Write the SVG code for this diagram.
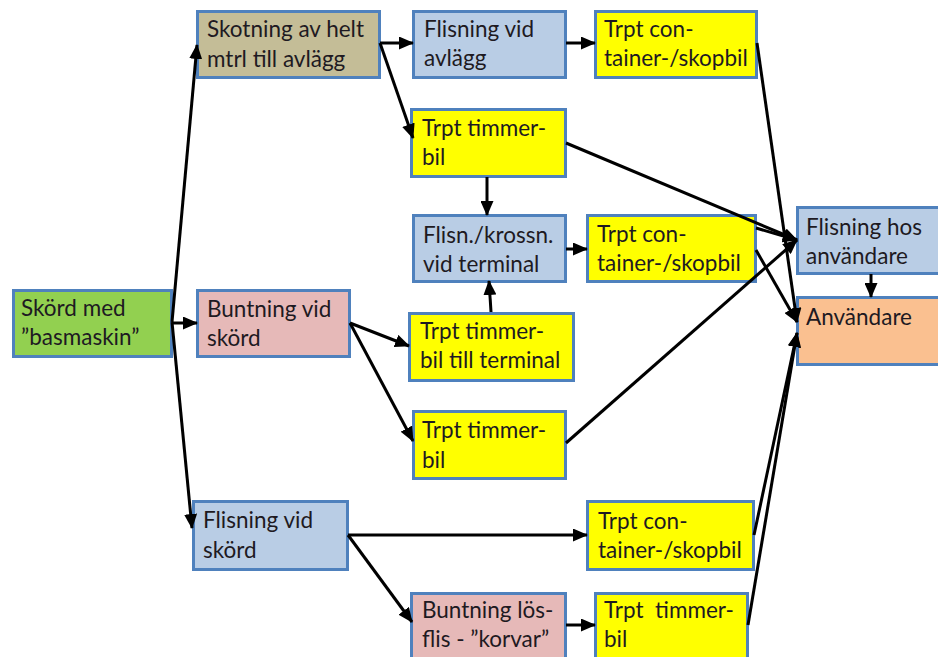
<svg xmlns="http://www.w3.org/2000/svg" width="938" height="657" viewBox="0 0 938 657">
<defs>
<style>
.b{stroke:#4F81BD;stroke-width:3}
.g{fill:#92D050}.t{fill:#C4BD97}.l{fill:#B9CDE5}.y{fill:#FFFF00}.p{fill:#E6B9B8}.o{fill:#FAC090}
text{font-family:Lato,"Liberation Sans",sans-serif;font-size:22.5px;fill:#1e1a22}
.c line{stroke:#000;stroke-width:3;marker-end:url(#a)}
</style>
<marker id="a" markerUnits="userSpaceOnUse" markerWidth="15" markerHeight="13" refX="14" refY="6.5" orient="auto">
<path d="M0,0 L15,6.5 L0,13 Z" fill="#000"/>
</marker>
</defs>
<rect width="938" height="657" fill="#fff"/>
<g id="n1"><rect class="b g" x="13.5" y="290.5" width="158" height="66"/><text x="21" y="316">Skörd med</text><text x="21" y="345">”basmaskin”</text></g>
<g id="n2"><rect class="b t" x="197.5" y="11.5" width="182" height="66"/><text x="207" y="37">Skotning av helt</text><text x="207" y="67">mtrl till avlägg</text></g>
<g id="n3"><rect class="b l" x="413.5" y="11.5" width="152" height="66"/><text x="424" y="37">Flisning vid</text><text x="424" y="66">avlägg</text></g>
<g id="n4"><rect class="b y" x="595.5" y="11.5" width="161" height="66"/><text x="604" y="37">Trpt con-</text><text x="604" y="66">tainer-/skopbil</text></g>
<g id="n5"><rect class="b y" x="411.5" y="109.5" width="154" height="67"/><text x="422" y="136">Trpt timmer-</text><text x="422" y="165">bil</text></g>
<g id="n6"><rect class="b l" x="413.5" y="215.5" width="152" height="66"/><text x="423" y="243">Flisn./krossn.</text><text x="423" y="272">vid terminal</text></g>
<g id="n7"><rect class="b y" x="587.5" y="215.5" width="168" height="66"/><text x="597" y="242">Trpt con-</text><text x="597" y="271">tainer-/skopbil</text></g>
<g id="n8"><rect class="b l" x="797.5" y="207.5" width="150" height="66"/><text x="806" y="235">Flisning hos</text><text x="806" y="264">användare</text></g>
<g id="n9"><rect class="b o" x="797.5" y="297.5" width="150" height="67"/><text x="806" y="325">Användare</text></g>
<g id="n10"><rect class="b p" x="197.5" y="290.5" width="152" height="66"/><text x="207" y="317">Buntning vid</text><text x="207" y="346">skörd</text></g>
<g id="n11"><rect class="b y" x="409.5" y="313.5" width="164" height="67"/><text x="420" y="339">Trpt timmer-</text><text x="420" y="368">bil till terminal</text></g>
<g id="n12"><rect class="b y" x="413.5" y="411.5" width="152" height="67"/><text x="422" y="438">Trpt timmer-</text><text x="422" y="468">bil</text></g>
<g id="n13"><rect class="b l" x="193.5" y="501.5" width="154" height="68"/><text x="203" y="528">Flisning vid</text><text x="203" y="558">skörd</text></g>
<g id="n14"><rect class="b y" x="587.5" y="501.5" width="166" height="68"/><text x="598" y="529">Trpt con-</text><text x="598" y="558">tainer-/skopbil</text></g>
<g id="n15"><rect class="b p" x="411.5" y="593.5" width="154" height="70"/><text x="422" y="618">Buntning lös-</text><text x="422" y="647">flis - ”korvar”</text></g>
<g id="n16"><rect class="b y" x="595.5" y="593.5" width="152" height="70"/><text x="604" y="618" xml:space="preserve">Trpt  timmer-</text><text x="604" y="647">bil</text></g>
<g id="connectors" class="c">
<line x1="172" y1="322" x2="197" y2="45"/>
<line x1="172" y1="323" x2="197" y2="323"/>
<line x1="172" y1="322" x2="192" y2="528"/>
<line x1="380" y1="43" x2="413" y2="43"/>
<line x1="380" y1="43" x2="413" y2="138"/>
<line x1="566" y1="43" x2="595" y2="43"/>
<line x1="757" y1="43" x2="797" y2="322"/>
<line x1="566" y1="143" x2="797" y2="240"/>
<line x1="487" y1="177" x2="487" y2="215"/>
<line x1="566" y1="249" x2="587" y2="249"/>
<line x1="756" y1="228" x2="797" y2="240"/>
<line x1="756" y1="250" x2="797" y2="322"/>
<line x1="566" y1="443" x2="797" y2="240"/>
<line x1="491" y1="312" x2="489" y2="281"/>
<line x1="350" y1="323" x2="409" y2="346"/>
<line x1="350" y1="323" x2="413" y2="441"/>
<line x1="348" y1="535" x2="587" y2="535"/>
<line x1="348" y1="535" x2="412" y2="622"/>
<line x1="566" y1="625" x2="595" y2="625"/>
<line x1="754" y1="535" x2="797" y2="333"/>
<line x1="748" y1="625" x2="797" y2="333"/>
<line x1="871" y1="274" x2="871" y2="297"/>
</g>
</svg>
